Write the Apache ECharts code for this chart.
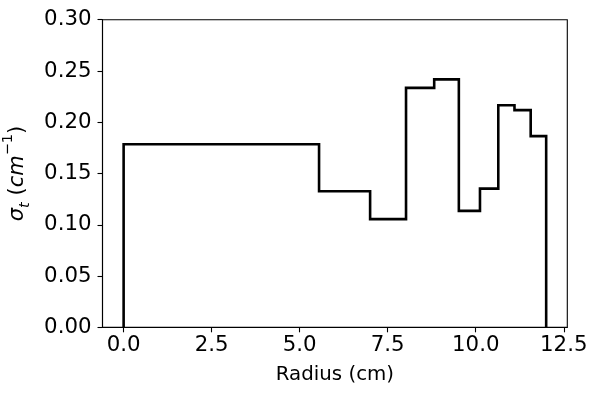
<!DOCTYPE html>
<html>
<head>
<meta charset="utf-8">
<script src="https://cdn.jsdelivr.net/npm/echarts@6/dist/echarts.min.js"></script>
<style>html,body{margin:0;padding:0;background:#fff}#c{width:598px;height:395px}</style>
</head>
<body>
<div id="c"></div>
<script>
// Region boundaries (cm) and total cross-section in each region (cm^-1)
const edges = [0.0, 5.55, 7.0, 8.02, 8.82, 9.52, 10.12, 10.64, 11.1, 11.56, 12.0];
const sigmaT = [0.1785, 0.1327, 0.1055, 0.2335, 0.2418, 0.1135, 0.1352, 0.2165, 0.2118, 0.1865];
const xTicks = [0.0, 2.5, 5.0, 7.5, 10.0, 12.5];
const yTicks = [0.00, 0.05, 0.10, 0.15, 0.20, 0.25, 0.30];

const pts = [[edges[0], 0]];
for (let i = 0; i < sigmaT.length; i++) {
  pts.push([edges[i], sigmaT[i]]);
  pts.push([edges[i + 1], sigmaT[i]]);
}
pts.push([edges[edges.length - 1], 0]);

const FONT = 'DejaVu Sans';
const chart = echarts.init(document.getElementById('c'), null, {renderer: 'canvas'});
chart.setOption({
  animation: false,
  grid: {left: 102.5, right: 30.7, top: 19.7, bottom: 67.7, containLabel: false, outerBoundsMode: 'none',
    show: true, borderColor: '#000', borderWidth: 1.1, backgroundColor: 'transparent'},
  xAxis: {
    type: 'value', min: -0.6, max: 12.6,
    name: 'Radius (cm)', nameLocation: 'middle', nameGap: 38,
    nameTextStyle: {fontFamily: FONT, fontSize: 19.8, color: '#000'},
    axisLine: {show: true, onZero: false, lineStyle: {color: '#000', width: 1.1}},
    axisTick: {show: true, length: 5, inside: false, lineStyle: {color: '#000', width: 1.1}, customValues: xTicks},
    axisLabel: {fontFamily: FONT, fontSize: 21.3, color: '#000', margin: 8, customValues: xTicks,
      formatter: v => v.toFixed(1)},
    splitLine: {show: false}
  },
  yAxis: {
    type: 'value', min: 0, max: 0.3, interval: 0.05,
    name: '{s|σ}{sub|t}{p| (}{s|cm}{sup|−1}{p|)}', nameLocation: 'middle', nameGap: 67, nameRotate: 90,
    nameTextStyle: {fontFamily: FONT, fontSize: 21, color: '#000',
      rich: {
        s: {fontFamily: FONT, fontStyle: 'italic', fontSize: 21, color: '#000', lineHeight: 32},
        p: {fontFamily: FONT, fontSize: 21, color: '#000', lineHeight: 32},
        sub: {fontFamily: FONT, fontStyle: 'italic', fontSize: 14.5, color: '#000', verticalAlign: 'bottom', lineHeight: 32, padding: [9, 0, 0, 0]},
        sup: {fontFamily: FONT, fontSize: 14.5, color: '#000', verticalAlign: 'top', lineHeight: 32, padding: [0, 0, 4, 0]}
      }},
    axisLine: {show: true, onZero: false, lineStyle: {color: '#000', width: 1.1}},
    axisTick: {show: true, length: 5, lineStyle: {color: '#000', width: 1.1}},
    axisLabel: {fontFamily: FONT, fontSize: 21.3, color: '#000', margin: 11, formatter: v => v.toFixed(2)},
    splitLine: {show: false}
  },
  series: [{
    type: 'line', data: pts, showSymbol: false, symbol: 'none',
    lineStyle: {color: '#000', width: 2.6, join: 'miter'}, z: 3
  }]
});
</script>
</body>
</html>
